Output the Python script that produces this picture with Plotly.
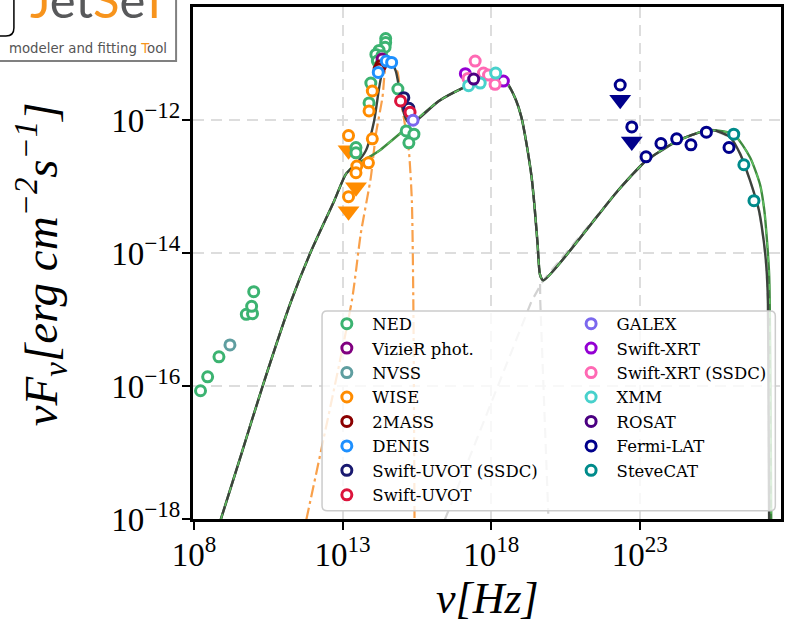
import plotly.graph_objects as go

# ---------------- data (log10 values) ----------------
ned_lognu = [8.22, 8.46, 8.84, 9.76, 9.97, 9.94, 10.01, 13.45, 13.45, 13.89, 13.95,
             14.45, 14.45, 14.43, 14.23, 14.12, 14.32, 14.17, 14.26, 14.86, 15.14, 15.40, 15.23]
ned_logf = [-16.07, -15.86, -15.56, -14.92, -14.91, -14.80, -14.58, -12.41, -12.49, -11.74, -11.44,
            -10.77, -10.83, -10.90, -10.95, -11.01, -11.03, -11.11, -11.17, -11.53, -12.16, -12.21, -12.34]
vizier_lognu = [14.33]
vizier_logf = [-11.08]
nvss_lognu = [9.21]
nvss_logf = [-15.38]
wise_lognu = [14.00, 13.89, 14.00, 13.87, 13.48]
wise_logf = [-11.56, -11.86, -12.28, -12.64, -12.69]
wise_ul_lognu = [13.20, 13.45, 13.20]
wise_ul_logf = [-12.23, -12.79, -13.15]
twomass_lognu = [14.28, 14.23]
twomass_logf = [-11.18, -11.23]
denis_lognu = [14.20, 14.47, 14.65]
denis_logf = [-11.28, -11.11, -11.13]
uvot_ssdc_lognu = [15.06, 15.23]
uvot_ssdc_logf = [-11.66, -11.82]
uvot_lognu = [14.95, 15.27]
uvot_logf = [-11.71, -11.88]
galex_lognu = [15.37]
galex_logf = [-12.00]
xrt_lognu = [17.13, 18.41]
xrt_logf = [-11.30, -11.41]
xrt_ssdc_lognu = [17.46, 17.74, 17.91, 18.13, 17.22]
xrt_ssdc_logf = [-11.11, -11.29, -11.32, -11.46, -11.37]
xmm_lognu = [17.24, 17.63, 18.15]
xmm_logf = [-11.48, -11.44, -11.29]
rosat_lognu = [17.41]
rosat_logf = [-11.38]
fermi_lognu = [23.21, 23.71, 24.24, 24.72, 25.24, 26.00]
fermi_logf = [-12.55, -12.35, -12.28, -12.37, -12.18, -12.41]
fermi_ul_lognu = [22.34, 22.73]
fermi_ul_logf = [-11.47, -12.10]
steve_lognu = [26.16, 26.50, 26.84]
steve_logf = [-12.21, -12.67, -13.21]

# model curves (log10 nu, log10 nuFnu)
total_lognu = [8.90, 9.61, 10.31, 11.27, 11.92, 12.72, 13.11, 13.45, 13.78, 14.06, 14.23, 14.39,
               14.56, 14.79, 14.90, 15.01, 15.17, 15.33, 16.24, 17.07, 17.91, 18.47, 18.80,
               19.02, 19.19, 19.36, 19.47, 19.56, 19.64]
total_logf = [-18.01, -17.00, -16.00, -14.72, -13.99, -13.21, -12.81, -12.66, -12.46, -12.01, -11.51,
              -11.16, -11.06, -11.26, -11.51, -11.81, -12.01, -12.05, -11.71, -11.51, -11.35,
              -11.41, -11.66, -11.96, -12.36, -12.86, -13.36, -13.86, -14.32]
ic_lognu = [19.75, 22.26, 23.21, 24.27, 25.16, 25.50, 26.05, 26.38, 26.71,
            27.01, 27.17, 27.26, 27.31, 27.33, 27.35]
ic_logf = [-14.41, -13.06, -12.61, -12.31, -12.16, -12.15, -12.26, -12.51,
           -12.91, -13.36, -13.82, -14.22, -14.72, -16.22, -18.01]
fit_sync_lognu = [13.95, 14.23, 15.33]
fit_sync_logf = [-12.54, -12.46, -12.05]
fit_end_lognu = [26.16, 26.71, 27.04, 27.19, 27.28, 27.35, 27.37, 27.40, 27.42]
fit_end_logf = [-12.21, -12.56, -12.96, -13.36, -13.82, -14.31, -14.72, -16.20, -18.01]
host_lognu = [11.78, 13.31, 13.61, 13.95, 14.12, 14.34, 14.50, 14.84, 14.95, 15.06, 15.23,
              15.33, 15.38, 15.42]
host_logf = [-18.01, -14.72, -13.71, -12.86, -12.21, -11.66, -11.08, -11.26, -11.66, -11.96,
             -12.46, -13.21, -14.72, -18.01]
ssc_low_lognu = [16.44, 19.36]
ssc_low_logf = [-18.01, -14.72]
sync_drop_lognu = [19.64, 19.65, 19.92]
sync_drop_logf = [-14.32, -14.72, -17.92]

xtick_exp = [8, 13, 18, 23]
ytick_exp = [-18, -16, -14, -12]


def lin(v):
    return [10.0 ** a for a in v]


# ---------------- geometry helpers (pixel -> paper) ----------------
PL, PR, PT, PB = 193, 784, 6, 519


def px(x):
    return (x - PL) / (PR - PL)


def py(y):
    return (PB - y) / (PB - PT)


fig = go.Figure()

# ---- model lines ----
SM = 0.6
fig.add_trace(go.Scatter(x=lin(host_lognu), y=lin(host_logf), mode="lines", showlegend=False,
                         line=dict(color="#f9a04a", width=2.2, dash="12px,4px,3px,4px",
                                   shape="spline", smoothing=SM), hoverinfo="skip"))
ssc_x = ssc_low_lognu + ic_lognu
ssc_y = ssc_low_logf + ic_logf
fig.add_trace(go.Scatter(x=lin(ssc_x), y=lin(ssc_y), mode="lines", showlegend=False,
                         line=dict(color="#d2d2d2", width=2.2, dash="10px,6px"), hoverinfo="skip"))
sd_x = total_lognu[-8:] + sync_drop_lognu[1:]
sd_y = total_logf[-8:] + sync_drop_logf[1:]
fig.add_trace(go.Scatter(x=lin(sd_x), y=lin(sd_y), mode="lines", showlegend=False,
                         line=dict(color="#d2d2d2", width=2.2, dash="10px,6px"), hoverinfo="skip"))

# fitted model: low part shared, sync path without host bump, own high-energy end
n_low = total_lognu.index(13.45) + 1
n_mid = total_lognu.index(16.24)
n_ic = ic_lognu.index(25.50) + 1
fit_x = total_lognu[:n_low] + fit_sync_lognu + total_lognu[n_mid:] + ic_lognu[:n_ic] + fit_end_lognu
fit_y = total_logf[:n_low] + fit_sync_logf + total_logf[n_mid:] + ic_logf[:n_ic] + fit_end_logf
tot_x = total_lognu + ic_lognu
tot_y = total_logf + ic_logf

fig.add_trace(go.Scatter(x=lin(fit_x), y=lin(fit_y), mode="lines", showlegend=False,
                         line=dict(color="#3f8a3f", width=2.4, shape="spline", smoothing=SM),
                         hoverinfo="skip"))
fig.add_trace(go.Scatter(x=lin(tot_x), y=lin(tot_y), mode="lines", showlegend=False,
                         line=dict(color="#3d423d", width=2.4, shape="spline", smoothing=SM),
                         hoverinfo="skip"))
fig.add_trace(go.Scatter(x=lin(fit_x), y=lin(fit_y), mode="lines", showlegend=False,
                         line=dict(color="#5fbf5f", width=1.5, dash="6px,8px", shape="spline",
                                   smoothing=SM), hoverinfo="skip"))

# ---- data points ----
series = [
    ("NED", ned_lognu, ned_logf, "#3cb371", "legend"),
    ("VizieR phot.", vizier_lognu, vizier_logf, "#800080", "legend"),
    ("NVSS", nvss_lognu, nvss_logf, "#5f9ea0", "legend"),
    ("WISE", wise_lognu + wise_ul_lognu, wise_logf + wise_ul_logf, "#ff8c00", "legend"),
    ("2MASS", twomass_lognu, twomass_logf, "#8b0000", "legend"),
    ("DENIS", denis_lognu, denis_logf, "#1e90ff", "legend"),
    ("Swift-UVOT (SSDC)", uvot_ssdc_lognu, uvot_ssdc_logf, "#191970", "legend"),
    ("Swift-UVOT", uvot_lognu, uvot_logf, "#dc143c", "legend"),
    ("GALEX", galex_lognu, galex_logf, "#7b68ee", "legend2"),
    ("Swift-XRT", xrt_lognu, xrt_logf, "#9400d3", "legend2"),
    ("Swift-XRT (SSDC)", xrt_ssdc_lognu, xrt_ssdc_logf, "#ff69b4", "legend2"),
    ("XMM", xmm_lognu, xmm_logf, "#48d1cc", "legend2"),
    ("ROSAT", rosat_lognu, rosat_logf, "#4b0082", "legend2"),
    ("Fermi-LAT", fermi_lognu + fermi_ul_lognu, fermi_logf + fermi_ul_logf, "#00008b", "legend2"),
    ("SteveCAT", steve_lognu, steve_logf, "#008b8b", "legend2"),
]

UL_SHIFT = 0.22
for ulx, uly, col in [(wise_ul_lognu, wise_ul_logf, "#ff8c00"), (fermi_ul_lognu, fermi_ul_logf, "#00008b")]:
    fig.add_trace(go.Scatter(x=lin(ulx), y=[10.0 ** (v - UL_SHIFT) for v in uly], mode="markers",
                             showlegend=False, hoverinfo="skip",
                             marker=dict(symbol="triangle-down", size=19, color=col, line=dict(width=0))))

for name, lx, ly, col, leg in series:
    fig.add_trace(go.Scatter(x=lin(lx), y=lin(ly), mode="markers", name=name, legend=leg,
                             marker=dict(symbol="circle", size=10, color="white",
                                         line=dict(color=col, width=3))))

# ---------------- layout ----------------
axis_font = dict(family="Liberation Serif", size=33, color="black")
leg_font = dict(family="DejaVu Serif", size=16.5, color="black")
fig.update_layout(
    width=788, height=621,
    margin=dict(l=PL, r=788 - PR, t=PT, b=621 - PB),
    paper_bgcolor="white", plot_bgcolor="white",
    xaxis=dict(type="log", range=[7.967, 27.75], tickvals=[10.0 ** e for e in xtick_exp],
               ticktext=["10<sup>%d</sup>" % e for e in xtick_exp],
               ticks="outside", ticklen=8, tickwidth=2, tickcolor="black", ticklabelstandoff=-4,
               showline=True, linewidth=3, linecolor="black", mirror=True,
               showgrid=True, gridcolor="#dddddd", gridwidth=1.6, griddash="11px,7px",
               tickfont=axis_font, zeroline=False),
    yaxis=dict(type="log", range=[-18.0, -10.296], tickvals=[10.0 ** e for e in ytick_exp],
               ticktext=["10<sup>\u2212%d</sup>" % (-e) for e in ytick_exp],
               ticks="outside", ticklen=8, tickwidth=2, tickcolor="black", ticklabelstandoff=-5,
               showline=True, linewidth=3, linecolor="black", mirror=True,
               showgrid=True, gridcolor="#dddddd", gridwidth=1.6, griddash="11px,7px",
               tickfont=axis_font, zeroline=False),
    legend=dict(x=px(322), y=py(306), xanchor="left", yanchor="top", bgcolor="rgba(0,0,0,0)",
                borderwidth=0, font=leg_font, tracegroupgap=0, itemwidth=41),
    legend2=dict(x=px(567.5), y=py(306), xanchor="left", yanchor="top", bgcolor="rgba(0,0,0,0)",
                 borderwidth=0, font=leg_font, tracegroupgap=0, itemwidth=41),
    showlegend=True,
)

# legend frame (rounded, translucent)
x0, x1, y0, y1 = px(322.7), px(778.3), py(310.7), py(510.7)
rx, ry = 5 / (PR - PL), 5 / (PB - PT)
path = (f"M {x0+rx},{y0} L {x1-rx},{y0} Q {x1},{y0} {x1},{y0-ry} L {x1},{y1+ry} "
        f"Q {x1},{y1} {x1-rx},{y1} L {x0+rx},{y1} Q {x0},{y1} {x0},{y1+ry} L {x0},{y0-ry} "
        f"Q {x0},{y0} {x0+rx},{y0} Z")
fig.add_shape(type="path", path=path, xref="paper", yref="paper", layer="above",
              fillcolor="rgba(255,255,255,0.8)", line=dict(color="#cccccc", width=1.5))

# logo box
fig.add_shape(type="rect", xref="paper", yref="paper", x0=px(-4), x1=px(176), y0=py(60), y1=py(-4),
              fillcolor="white", line=dict(color="#808080", width=2))
ix1, iy1 = px(13), py(35)
irx, iry = 8 / (PR - PL), 8 / (PB - PT)
inner = (f"M {px(-4)},{py(-4)} L {ix1},{py(-4)} L {ix1},{iy1+iry} Q {ix1},{iy1} {ix1-irx},{iy1} "
         f"L {px(-4)},{iy1} Z")
fig.add_shape(type="path", path=inner, xref="paper", yref="paper",
              fillcolor="white", line=dict(color="black", width=1.5))

ORANGE = "#f7941d"
GREY = "#58595b"
fig.add_annotation(xref="paper", yref="paper", x=px(99), y=py(-2), xanchor="center", yanchor="middle",
                   showarrow=False,
                   text=(f"<span style='color:{ORANGE}'>J</span><span style='color:{GREY}'>et</span>"
                         f"<span style='color:{ORANGE}'>S</span><span style='color:{GREY}'>e</span>"
                         f"<span style='color:{ORANGE}'>T</span>"),
                   font=dict(family="Lato", size=49, color=GREY))
fig.add_annotation(xref="paper", yref="paper", x=px(6), y=py(48), xanchor="left", yanchor="middle",
                   showarrow=False,
                   text=f"modeler and fitting <span style='color:{ORANGE}'>T</span>ool",
                   font=dict(family="DejaVu Sans", size=13.3, color="#555555"))

# axis titles
fig.add_annotation(xref="paper", yref="paper", x=px(489), y=py(599), xanchor="center", yanchor="middle",
                   showarrow=False, text="<i>\u03bd[Hz]</i>",
                   font=dict(family="Liberation Serif", size=44, color="black"))
fig.add_annotation(xref="paper", yref="paper", x=px(41), y=py(264), xanchor="center", yanchor="middle",
                   showarrow=False, textangle=-90,
                   text="<i>\u03bdF<sub>\u03bd</sub>[erg cm<sup>\u22122</sup>s<sup>\u22121</sup>]</i>",
                   font=dict(family="Liberation Serif", size=47, color="black"))

fig.write_html("out.html", post_script="document.body.style.margin='0px';",
               config={"displayModeBar": False})
